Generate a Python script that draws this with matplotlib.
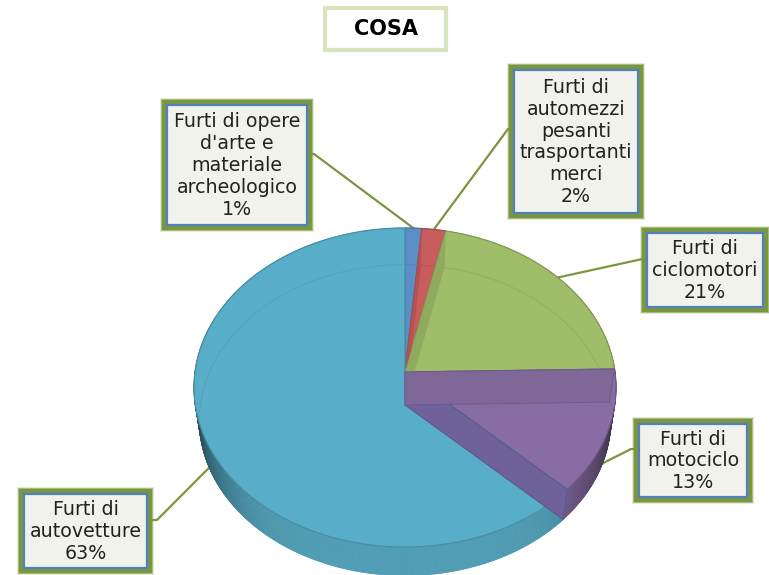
import numpy as np
import matplotlib
matplotlib.use("Agg")
import matplotlib.pyplot as plt
from matplotlib.patches import Polygon, Rectangle
from matplotlib.colors import to_rgb

# slice data, clockwise from 12 o'clock
labels = ["Furti di opere\nd'arte e\nmateriale\narcheologico",
          "Furti di\nautomezzi\npesanti\ntrasportanti\nmerci",
          "Furti di\nciclomotori",
          "Furti di\nmotociclo",
          "Furti di\nautovetture"]
values = [1.4, 2.0, 21.3, 12.5, 62.8]
shown = ["1%", "2%", "21%", "13%", "63%"]
colors = ["#5b8ec6", "#c95c5c", "#a0bd69", "#886ca4", "#58aec8"]

# label boxes: left, top, right, bottom in pixels
boxes = [(167, 105, 307, 225), (514, 70, 638, 213), (647, 233, 763, 307),
         (639, 424, 747, 497), (24, 494, 147, 568)]
# leader start and elbow, then which rim it lands on
leader_start = [(307, 154), (514, 129), (647, 258), (639, 449), (147, 520)]
leader_elbow = [(314, 154), (508, 129), (647, 258), (631, 449), (157, 520)]
leader_low = [False, False, False, True, True]

LINE = "#7a9640"
CX, CY_TOP, CY_BOT = 405, 372, 405
A, B, K, S_BOT = 210, 158, 0.0972, 0.975


def rim(t, low=False):
    # circle seen in perspective, the far side is a bit squashed
    s = S_BOT if low else 1.0
    cy = CY_BOT if low else CY_TOP
    w = 1 + K * np.cos(t)
    return np.column_stack([CX + A * s * np.sin(t) / w, cy - B * s * np.cos(t) / w])


def shade(c, f):
    return tuple(min(1, v * f) for v in to_rgb(c))


def radial_wall(t):
    t = np.array([t])
    return np.vstack([[CX, CY_TOP], [CX, CY_BOT], rim(t, True), rim(t)])


fig = plt.figure(figsize=(7.69, 5.75), dpi=100)
ax = fig.add_axes([0, 0, 1, 1])
ax.set_xlim(0, 769)
ax.set_ylim(575, 0)
ax.axis("off")

edges = np.cumsum([0] + values) / sum(values) * 2 * np.pi
mids = (edges[:-1] + edges[1:]) / 2

# leaders go under the pie
for i in range(5):
    end = rim(np.array([mids[i]]), leader_low[i])[0]
    xs = [leader_start[i][0], leader_elbow[i][0], end[0]]
    ys = [leader_start[i][1], leader_elbow[i][1], end[1]]
    ax.plot(xs, ys, color=LINE, lw=1.6, zorder=1, solid_joinstyle="round")

# outer side wall, cut in thin strips to get the shading
for i in range(5):
    ts = np.linspace(edges[i], edges[i + 1], max(3, int(values[i] * 8)))
    for t0, t1 in zip(ts[:-1], ts[1:]):
        pair = np.array([t0, t1])
        f = 0.9 - 0.5 * abs(np.sin((t0 + t1) / 2)) ** 5
        c = shade(colors[i], f)
        ax.add_patch(Polygon(np.vstack([rim(pair), rim(pair, True)[::-1]]),
                             facecolor=c, edgecolor=c, lw=0.5, zorder=2))

# top face
faces = []
for i in range(5):
    ts = np.linspace(edges[i], edges[i + 1], max(3, int(values[i] * 6)))
    pts = np.vstack([[CX, CY_TOP], rim(ts)])
    p = Polygon(pts, facecolor=colors[i], edgecolor=shade(colors[i], 0.82),
                lw=0.9, zorder=3)
    ax.add_patch(p)
    faces.append(p)

# back edge of the bottom face seen through the top
ts = np.linspace(-np.pi * 0.6, np.pi * 0.5, 200)
pts = rim(ts, True)
for i in range(5):
    ln, = ax.plot(pts[:, 0], pts[:, 1], color=shade(colors[i], 0.94), lw=0.9, zorder=4)
    ln.set_clip_path(faces[i])

# inner walls seen through the slices
for i in [1, 2]:
    w = Polygon(radial_wall(edges[i]), facecolor=shade(colors[i], 0.88),
                edgecolor="none", alpha=0.8, zorder=5)
    ax.add_patch(w)
    w.set_clip_path(faces[i])
ax.add_patch(Polygon(radial_wall(edges[4]), facecolor="#6f6199",
                     edgecolor="#5f5488", lw=0.7, zorder=5))
ax.add_patch(Polygon(radial_wall(edges[3]), facecolor="#7f6898",
                     edgecolor="#6f5a8c", lw=0.7, zorder=6))

# label boxes
for i, (x0, y0, x1, y1) in enumerate(boxes):
    for pad, al in [(7, 0.2), (6, 0.55), (5, 1.0)]:
        ax.add_patch(Rectangle((x0 - pad, y0 - pad), x1 - x0 + 2 * pad, y1 - y0 + 2 * pad,
                               facecolor=LINE, edgecolor="none", alpha=al, zorder=7))
    ax.add_patch(Rectangle((x0, y0), x1 - x0, y1 - y0, facecolor="#f2f2ec",
                           edgecolor="#4f81bd", lw=1.6, zorder=8))
    ax.text((x0 + x1) / 2, (y0 + y1) / 2 + 0.5, labels[i] + "\n" + shown[i], ha="center",
            va="center", fontsize=13.7, color="#222222", linespacing=1.19, zorder=9)

# title
ax.add_patch(Rectangle((325, 8), 121, 42, facecolor="white", edgecolor="#d8e4bc",
                       lw=3, zorder=7))
ax.text(386, 29, "COSA", ha="center", va="center", fontsize=15, fontweight="bold",
        color="black", zorder=9)

fig.savefig("out.png", dpi=100)
